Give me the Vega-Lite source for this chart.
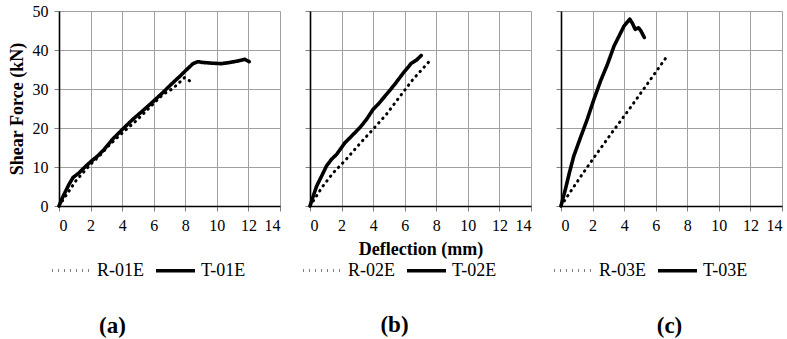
{
  "$schema": "https://vega.github.io/schema/vega-lite/v6.json",
  "padding": {"left": 8, "top": 3, "right": 0, "bottom": 0},
  "background": "white",
  "bounds": "flush",
  "spacing": 30,
  "data": {"values": [
    {"panel": "a", "series": "R-01E", "d": 0, "F": 0},
    {"panel": "a", "series": "R-01E", "d": 1.06, "F": 6.4},
    {"panel": "a", "series": "R-01E", "d": 2.0, "F": 10.7},
    {"panel": "a", "series": "R-01E", "d": 2.55, "F": 12.8},
    {"panel": "a", "series": "R-01E", "d": 3.18, "F": 15.6},
    {"panel": "a", "series": "R-01E", "d": 4.03, "F": 18.8},
    {"panel": "a", "series": "R-01E", "d": 4.88, "F": 21.8},
    {"panel": "a", "series": "R-01E", "d": 5.73, "F": 25.2},
    {"panel": "a", "series": "R-01E", "d": 6.58, "F": 28.6},
    {"panel": "a", "series": "R-01E", "d": 7.21, "F": 30.1},
    {"panel": "a", "series": "R-01E", "d": 7.95, "F": 32.9},
    {"panel": "a", "series": "R-01E", "d": 8.27, "F": 32.1},
    {"panel": "a", "series": "T-01E", "d": 0, "F": 0},
    {"panel": "a", "series": "T-01E", "d": 0.17, "F": 1.7},
    {"panel": "a", "series": "T-01E", "d": 0.42, "F": 3.8},
    {"panel": "a", "series": "T-01E", "d": 0.64, "F": 5.6},
    {"panel": "a", "series": "T-01E", "d": 0.89, "F": 7.3},
    {"panel": "a", "series": "T-01E", "d": 1.27, "F": 8.5},
    {"panel": "a", "series": "T-01E", "d": 1.59, "F": 9.8},
    {"panel": "a", "series": "T-01E", "d": 2.02, "F": 11.4},
    {"panel": "a", "series": "T-01E", "d": 2.44, "F": 12.8},
    {"panel": "a", "series": "T-01E", "d": 2.86, "F": 14.5},
    {"panel": "a", "series": "T-01E", "d": 3.39, "F": 17.1},
    {"panel": "a", "series": "T-01E", "d": 4.03, "F": 19.7},
    {"panel": "a", "series": "T-01E", "d": 4.67, "F": 22.2},
    {"panel": "a", "series": "T-01E", "d": 5.30, "F": 24.4},
    {"panel": "a", "series": "T-01E", "d": 5.94, "F": 26.7},
    {"panel": "a", "series": "T-01E", "d": 6.58, "F": 29.1},
    {"panel": "a", "series": "T-01E", "d": 7.11, "F": 31.2},
    {"panel": "a", "series": "T-01E", "d": 7.64, "F": 33.2},
    {"panel": "a", "series": "T-01E", "d": 8.17, "F": 35.3},
    {"panel": "a", "series": "T-01E", "d": 8.49, "F": 36.5},
    {"panel": "a", "series": "T-01E", "d": 8.80, "F": 37.0},
    {"panel": "a", "series": "T-01E", "d": 9.12, "F": 36.8},
    {"panel": "a", "series": "T-01E", "d": 9.76, "F": 36.6},
    {"panel": "a", "series": "T-01E", "d": 10.29, "F": 36.5},
    {"panel": "a", "series": "T-01E", "d": 10.82, "F": 36.8},
    {"panel": "a", "series": "T-01E", "d": 11.35, "F": 37.2},
    {"panel": "a", "series": "T-01E", "d": 11.77, "F": 37.6},
    {"panel": "a", "series": "T-01E", "d": 12.05, "F": 37.0},
    {"panel": "b", "series": "R-02E", "d": 0, "F": 0},
    {"panel": "b", "series": "R-02E", "d": 0.42, "F": 2.6},
    {"panel": "b", "series": "R-02E", "d": 0.74, "F": 4.7},
    {"panel": "b", "series": "R-02E", "d": 1.47, "F": 8.5},
    {"panel": "b", "series": "R-02E", "d": 2.32, "F": 12.1},
    {"panel": "b", "series": "R-02E", "d": 3.16, "F": 16.0},
    {"panel": "b", "series": "R-02E", "d": 4.0, "F": 19.7},
    {"panel": "b", "series": "R-02E", "d": 4.84, "F": 23.5},
    {"panel": "b", "series": "R-02E", "d": 5.68, "F": 28.0},
    {"panel": "b", "series": "R-02E", "d": 6.53, "F": 32.5},
    {"panel": "b", "series": "R-02E", "d": 7.54, "F": 37.0},
    {"panel": "b", "series": "T-02E", "d": 0, "F": 0},
    {"panel": "b", "series": "T-02E", "d": 0.21, "F": 2.6},
    {"panel": "b", "series": "T-02E", "d": 0.42, "F": 5.1},
    {"panel": "b", "series": "T-02E", "d": 0.74, "F": 7.7},
    {"panel": "b", "series": "T-02E", "d": 1.05, "F": 10.3},
    {"panel": "b", "series": "T-02E", "d": 1.37, "F": 12.0},
    {"panel": "b", "series": "T-02E", "d": 1.68, "F": 13.2},
    {"panel": "b", "series": "T-02E", "d": 2.21, "F": 16.2},
    {"panel": "b", "series": "T-02E", "d": 2.63, "F": 17.9},
    {"panel": "b", "series": "T-02E", "d": 3.16, "F": 20.1},
    {"panel": "b", "series": "T-02E", "d": 3.58, "F": 22.2},
    {"panel": "b", "series": "T-02E", "d": 4.0, "F": 24.8},
    {"panel": "b", "series": "T-02E", "d": 4.32, "F": 26.1},
    {"panel": "b", "series": "T-02E", "d": 4.84, "F": 28.6},
    {"panel": "b", "series": "T-02E", "d": 5.37, "F": 31.2},
    {"panel": "b", "series": "T-02E", "d": 5.89, "F": 34.0},
    {"panel": "b", "series": "T-02E", "d": 6.42, "F": 36.6},
    {"panel": "b", "series": "T-02E", "d": 6.74, "F": 37.4},
    {"panel": "b", "series": "T-02E", "d": 7.05, "F": 38.6},
    {"panel": "c", "series": "R-03E", "d": 0, "F": 0},
    {"panel": "c", "series": "R-03E", "d": 0.49, "F": 3.0},
    {"panel": "c", "series": "R-03E", "d": 1.34, "F": 8.1},
    {"panel": "c", "series": "R-03E", "d": 2.19, "F": 13.0},
    {"panel": "c", "series": "R-03E", "d": 3.26, "F": 19.0},
    {"panel": "c", "series": "R-03E", "d": 4.32, "F": 24.8},
    {"panel": "c", "series": "R-03E", "d": 5.38, "F": 30.8},
    {"panel": "c", "series": "R-03E", "d": 6.70, "F": 38.3},
    {"panel": "c", "series": "T-03E", "d": 0, "F": 0},
    {"panel": "c", "series": "T-03E", "d": 0.28, "F": 4.3},
    {"panel": "c", "series": "T-03E", "d": 0.53, "F": 8.5},
    {"panel": "c", "series": "T-03E", "d": 0.81, "F": 12.8},
    {"panel": "c", "series": "T-03E", "d": 1.23, "F": 17.5},
    {"panel": "c", "series": "T-03E", "d": 1.66, "F": 22.2},
    {"panel": "c", "series": "T-03E", "d": 2.09, "F": 27.4},
    {"panel": "c", "series": "T-03E", "d": 2.51, "F": 32.1},
    {"panel": "c", "series": "T-03E", "d": 2.94, "F": 36.3},
    {"panel": "c", "series": "T-03E", "d": 3.36, "F": 41.0},
    {"panel": "c", "series": "T-03E", "d": 3.68, "F": 43.6},
    {"panel": "c", "series": "T-03E", "d": 4.0, "F": 46.2},
    {"panel": "c", "series": "T-03E", "d": 4.21, "F": 47.2},
    {"panel": "c", "series": "T-03E", "d": 4.36, "F": 47.9},
    {"panel": "c", "series": "T-03E", "d": 4.53, "F": 46.8},
    {"panel": "c", "series": "T-03E", "d": 4.70, "F": 45.3},
    {"panel": "c", "series": "T-03E", "d": 4.91, "F": 45.7},
    {"panel": "c", "series": "T-03E", "d": 5.06, "F": 44.9},
    {"panel": "c", "series": "T-03E", "d": 5.28, "F": 43.2}
  ]},
  "hconcat": [
    {
      "width": 221, "height": 195,
      "title": {"text": "(a)", "orient": "bottom", "anchor": "middle", "frame": "group", "dx": -57, "offset": 35},
      "transform": [{"filter": "datum.panel === 'a'"}],
      "mark": {"type": "line", "color": "black", "strokeCap": "round", "strokeJoin": "round"},
      "encoding": {
        "x": {"field": "d", "type": "quantitative", "scale": {"domain": [0, 14], "nice": false}, "axis": {"values": [0, 2, 4, 6, 8, 10, 12, 14], "title": null, "labelPadding": 6}},
        "y": {"field": "F", "type": "quantitative", "scale": {"domain": [0, 50], "nice": false}, "axis": {"values": [0, 10, 20, 30, 40, 50], "title": "Shear Force (kN)", "titlePadding": 6, "labelPadding": 6}},
        "strokeDash": {"field": "series", "type": "nominal", "scale": {"range": [[0.5, 5.5], [1, 0]]},
          "legend": {"orient": "none", "legendX": -8, "legendY": 238, "direction": "horizontal", "title": null, "symbolType": "stroke", "symbolSize": 1521, "symbolStrokeColor": "black", "labelFont": "Liberation Serif", "labelFontSize": 18, "labelColor": "black", "labelOffset": 4, "columnPadding": 4, "padding": 0, "symbolOffset": 0, "encoding": {"symbols": {"update": {"strokeCap": {"value": "round"}}}}}},
        "strokeWidth": {"field": "series", "type": "ordinal", "scale": {"range": [3, 3.6]},
          "legend": {"orient": "none", "legendX": -8, "legendY": 238, "direction": "horizontal", "title": null, "symbolType": "stroke", "symbolSize": 1521, "symbolStrokeColor": "black", "labelFont": "Liberation Serif", "labelFontSize": 18, "labelColor": "black", "labelOffset": 4, "columnPadding": 4, "padding": 0, "symbolOffset": 0, "encoding": {"symbols": {"update": {"strokeCap": {"value": "round"}}}}}}
      }
    },
    {
      "width": 221, "height": 195,
      "title": {"text": "(b)", "orient": "bottom", "anchor": "middle", "frame": "group", "dx": -26, "offset": 34},
      "transform": [{"filter": "datum.panel === 'b'"}],
      "mark": {"type": "line", "color": "black", "strokeCap": "round", "strokeJoin": "round"},
      "encoding": {
        "x": {"field": "d", "type": "quantitative", "scale": {"domain": [0, 14], "nice": false}, "axis": {"values": [0, 2, 4, 6, 8, 10, 12, 14], "title": "Deflection (mm)", "titlePadding": 7, "labelPadding": 6}},
        "y": {"field": "F", "type": "quantitative", "scale": {"domain": [0, 50], "nice": false}, "axis": {"values": [0, 10, 20, 30, 40, 50], "title": null, "labels": false}},
        "strokeDash": {"field": "series", "type": "nominal", "scale": {"range": [[0.5, 5.5], [1, 0]]},
          "legend": {"orient": "none", "legendX": -8, "legendY": 238, "direction": "horizontal", "title": null, "symbolType": "stroke", "symbolSize": 1521, "symbolStrokeColor": "black", "labelFont": "Liberation Serif", "labelFontSize": 18, "labelColor": "black", "labelOffset": 4, "columnPadding": 4, "padding": 0, "symbolOffset": 0, "encoding": {"symbols": {"update": {"strokeCap": {"value": "round"}}}}}},
        "strokeWidth": {"field": "series", "type": "ordinal", "scale": {"range": [3, 3.6]},
          "legend": {"orient": "none", "legendX": -8, "legendY": 238, "direction": "horizontal", "title": null, "symbolType": "stroke", "symbolSize": 1521, "symbolStrokeColor": "black", "labelFont": "Liberation Serif", "labelFontSize": 18, "labelColor": "black", "labelOffset": 4, "columnPadding": 4, "padding": 0, "symbolOffset": 0, "encoding": {"symbols": {"update": {"strokeCap": {"value": "round"}}}}}}
      }
    },
    {
      "width": 221, "height": 195,
      "title": {"text": "(c)", "orient": "bottom", "anchor": "middle", "frame": "group", "dx": -2, "offset": 35},
      "transform": [{"filter": "datum.panel === 'c'"}],
      "mark": {"type": "line", "color": "black", "strokeCap": "round", "strokeJoin": "round"},
      "encoding": {
        "x": {"field": "d", "type": "quantitative", "scale": {"domain": [0, 14], "nice": false}, "axis": {"values": [0, 2, 4, 6, 8, 10, 12, 14], "title": null, "labelPadding": 6}},
        "y": {"field": "F", "type": "quantitative", "scale": {"domain": [0, 50], "nice": false}, "axis": {"values": [0, 10, 20, 30, 40, 50], "title": null, "labels": false}},
        "strokeDash": {"field": "series", "type": "nominal", "scale": {"range": [[0.5, 5.5], [1, 0]]},
          "legend": {"orient": "none", "legendX": -8, "legendY": 238, "direction": "horizontal", "title": null, "symbolType": "stroke", "symbolSize": 1521, "symbolStrokeColor": "black", "labelFont": "Liberation Serif", "labelFontSize": 18, "labelColor": "black", "labelOffset": 4, "columnPadding": 4, "padding": 0, "symbolOffset": 0, "encoding": {"symbols": {"update": {"strokeCap": {"value": "round"}}}}}},
        "strokeWidth": {"field": "series", "type": "ordinal", "scale": {"range": [3, 3.6]},
          "legend": {"orient": "none", "legendX": -8, "legendY": 238, "direction": "horizontal", "title": null, "symbolType": "stroke", "symbolSize": 1521, "symbolStrokeColor": "black", "labelFont": "Liberation Serif", "labelFontSize": 18, "labelColor": "black", "labelOffset": 4, "columnPadding": 4, "padding": 0, "symbolOffset": 0, "encoding": {"symbols": {"update": {"strokeCap": {"value": "round"}}}}}}
      }
    }
  ],
  "resolve": {
    "scale": {"strokeDash": "independent", "strokeWidth": "independent"},
    "legend": {"strokeDash": "independent", "strokeWidth": "independent"}
  },
  "config": {
    "font": "Liberation Serif",
    "view": {"stroke": null},
    "axis": {
      "gridColor": "#a0a0a0", "gridWidth": 1, "gridOpacity": 1,
      "domainColor": "black", "domainWidth": 1.6,
      "tickColor": "#808080", "tickSize": 5, "tickWidth": 1,
      "labelFont": "Liberation Serif", "labelFontSize": 16, "labelColor": "black",
      "titleFont": "Liberation Serif", "titleFontSize": 18, "titleFontWeight": "bold", "titleColor": "black"
    },
    "legend": {"labelFont": "Liberation Serif"},
    "title": {"font": "Liberation Serif", "fontSize": 23, "fontWeight": "bold", "color": "black"}
  }
}
